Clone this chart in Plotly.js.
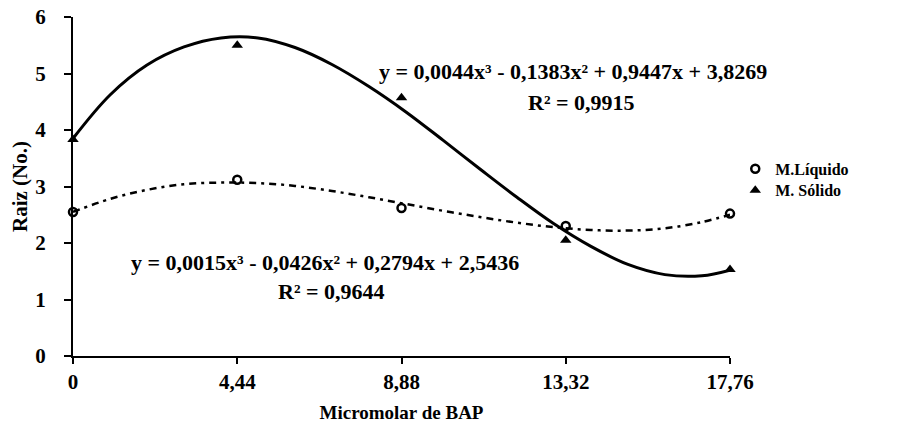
<!DOCTYPE html>
<html>
<head>
<meta charset="utf-8">
<script src="https://cdn.plot.ly/plotly-3.0.1.min.js"></script>
<style>html,body{margin:0;padding:0;background:#fff;}#chart{width:908px;height:443px;}</style>
</head>
<body>
<div id="chart"></div>
<script>
// Doses of BAP (micromolar) and tick labels
const doses = [0, 4.44, 8.88, 13.32, 17.76];
const doseLabels = ['0', '4,44', '8,88', '13,32', '17,76'];

// Observed root numbers
const liquido = [2.55, 3.12, 2.62, 2.30, 2.52];
const solido = [3.83, 5.50, 4.57, 2.05, 1.53];

// Trend curves
const trendX = [0, 1, 2, 3, 4, 5, 6, 7, 8, 9, 10, 11, 12, 13, 14, 15, 16, 17, 17.76];
const trendSolido = [3.85, 4.62, 5.15, 5.47, 5.63, 5.63, 5.46, 5.16, 4.77, 4.32, 3.82, 3.31, 2.81, 2.34, 1.94, 1.62, 1.44, 1.42, 1.52];
const trendLiquido = [2.55, 2.78, 2.94, 3.04, 3.07, 3.06, 3.01, 2.92, 2.81, 2.69, 2.57, 2.46, 2.36, 2.28, 2.23, 2.22, 2.26, 2.37, 2.50];

const eqSolido = 'y = 0,0044x³ - 0,1383x² + 0,9447x + 3,8269';
const r2Solido = 'R² = 0,9915';
const eqLiquido = 'y = 0,0015x³ - 0,0426x² + 0,2794x + 2,5436';
const r2Liquido = 'R² = 0,9644';

const serif = 'Liberation Serif, Times New Roman, serif';
const eqFont = {family: serif, size: 22, weight: 'bold', color: '#000'};
const legFont = {family: serif, size: 16, weight: 'bold', color: '#000'};

const traces = [
  {x: trendX, y: trendSolido, mode: 'lines', line: {color: '#000', width: 3, shape: 'spline'}, showlegend: false, hoverinfo: 'skip'},
  {x: trendX, y: trendLiquido, mode: 'lines', line: {color: '#000', width: 2.5, dash: '7px,5px,3px,5px', shape: 'spline'}, showlegend: false, hoverinfo: 'skip'},
  {x: doses, y: liquido, name: 'M.Líquido', mode: 'markers', cliponaxis: false, legend: 'legend',
   marker: {symbol: 'circle-open', size: 8, color: '#000', line: {color: '#000', width: 2.5}}},
  {x: doses, y: solido, name: 'M. Sólido', mode: 'markers', cliponaxis: false, legend: 'legend2',
   marker: {symbol: 'triangle-up', size: 10, color: '#000'}}
];

const layout = {
  width: 908, height: 443,
  margin: {l: 73, r: 178, t: 17, b: 87},
  paper_bgcolor: '#fff', plot_bgcolor: '#fff',
  font: {family: serif, color: '#000', size: 18, weight: 'bold'},
  showlegend: true,
  legend: {x: 1.008, y: 0.552, xanchor: 'left', yanchor: 'middle', font: legFont, itemwidth: 30, bgcolor: 'rgba(0,0,0,0)'},
  legend2: {x: 1.008, y: 0.489, xanchor: 'left', yanchor: 'middle', font: legFont, itemwidth: 30, bgcolor: 'rgba(0,0,0,0)'},
  xaxis: {
    range: [0, 17.76], tickvals: doses, ticktext: doseLabels,
    showgrid: false, zeroline: false, showline: true, linecolor: '#000', linewidth: 2,
    ticks: 'outside', ticklen: 6, tickwidth: 2, tickcolor: '#000',
    tickfont: {family: serif, size: 21, weight: 'bold'},
    title: {text: 'Micromolar de BAP', font: {family: serif, size: 19, weight: 'bold'}, standoff: 12}
  },
  yaxis: {
    range: [0, 6], dtick: 1, tick0: 0,
    showgrid: false, zeroline: false, showline: true, linecolor: '#000', linewidth: 2,
    ticks: 'outside', ticklen: 7, tickwidth: 2, tickcolor: '#000',
    ticklabelstandoff: 14,
    tickfont: {family: serif, size: 21, weight: 'bold'},
    title: {text: 'Raiz (No.)', font: {family: serif, size: 21, weight: 'bold'}, standoff: 2}
  },
  annotations: [
    {x: 13.52, y: 5.03, xref: 'x', yref: 'y', text: eqSolido, showarrow: false, font: eqFont},
    {x: 13.74, y: 4.48, xref: 'x', yref: 'y', text: r2Solido, showarrow: false, font: eqFont},
    {x: 6.8, y: 1.66, xref: 'x', yref: 'y', text: eqLiquido, showarrow: false, font: eqFont},
    {x: 6.99, y: 1.15, xref: 'x', yref: 'y', text: r2Liquido, showarrow: false, font: eqFont}
  ]
};

Plotly.newPlot('chart', traces, layout, {displayModeBar: false, staticPlot: true});
</script>
</body>
</html>
